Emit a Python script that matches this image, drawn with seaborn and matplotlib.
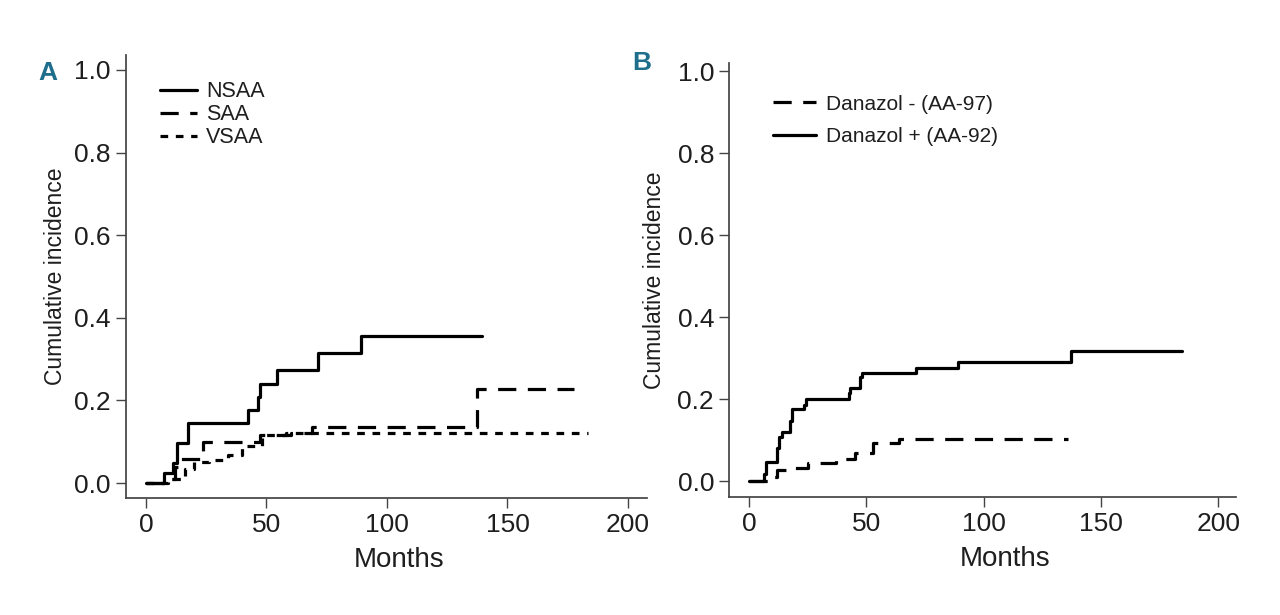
import matplotlib
matplotlib.use("Agg")
import matplotlib.pyplot as plt
import pandas as pd
import seaborn as sns

# Panel A: cumulative incidence by severity
nsaa_months = [0, 7.6, 11.3, 12.7, 17.6, 42.4, 46.6, 47.3, 54.5, 71.2, 89.2, 139.3]
nsaa_inc = [0, 0.025, 0.049, 0.097, 0.146, 0.178, 0.208, 0.240, 0.273, 0.314, 0.355, 0.355]
saa_months = [0, 10, 12, 14, 23.5, 47.3, 60, 69, 137.5, 177.5]
saa_inc = [0, 0.01, 0.040, 0.058, 0.100, 0.117, 0.122, 0.135, 0.228, 0.228]
vsaa_months = [0, 9, 16, 20, 26, 34, 40, 48, 58, 183.5]
vsaa_inc = [0, 0.01, 0.035, 0.050, 0.056, 0.068, 0.089, 0.117, 0.121, 0.121]

# Panel B: cumulative incidence by danazol use
dan_plus_months = [0, 6.5, 7.1, 11.8, 12.8, 14.2, 17.5, 18.2, 23.4, 24.3, 42.6, 43.0,
                   47.3, 48.3, 71.0, 89.2, 137.0, 184.6]
dan_plus_inc = [0, 0.017, 0.046, 0.080, 0.108, 0.119, 0.147, 0.175, 0.185, 0.200, 0.214,
                0.226, 0.254, 0.264, 0.276, 0.291, 0.317, 0.317]
dan_minus_months = [0, 9.7, 11.8, 18, 25, 37, 45, 53, 64, 136]
dan_minus_inc = [0, 0.010, 0.027, 0.032, 0.044, 0.053, 0.068, 0.094, 0.102, 0.102]

xticks = [0, 50, 100, 150, 200]
yticks = [0.0, 0.2, 0.4, 0.6, 0.8, 1.0]

LONG_DASH = (0, (5.7, 3.6))
SHORT_DASH = (0, (2.4, 2.4))
LW = 2.3
TEXT = "#1e1e1e"
PANEL = "#1f6e8c"

sns.set_theme(style="ticks")
plt.rcParams["font.family"] = ["Liberation Sans", "DejaVu Sans"]
plt.rcParams["axes.edgecolor"] = "#444444"
plt.rcParams["xtick.color"] = "#444444"
plt.rcParams["ytick.color"] = "#444444"

fig = plt.figure(figsize=(12.8, 6.15), dpi=100)
ax_a = fig.add_axes([0.0984, 0.1902, 0.4071, 0.7204])
ax_b = fig.add_axes([0.5698, 0.1924, 0.3958, 0.7046])


def draw(ax, months, inc, style, label):
    df = pd.DataFrame({"Months": months, "inc": inc})
    sns.lineplot(data=df, x="Months", y="inc", ax=ax, color="black", lw=LW,
                 linestyle=style, drawstyle="steps-post", label=label,
                 estimator=None, sort=False)


draw(ax_a, nsaa_months, nsaa_inc, "-", "NSAA")
draw(ax_a, saa_months, saa_inc, LONG_DASH, "SAA")
draw(ax_a, vsaa_months, vsaa_inc, SHORT_DASH, "VSAA")

draw(ax_b, dan_minus_months, dan_minus_inc, LONG_DASH, "Danazol - (AA-97)")
draw(ax_b, dan_plus_months, dan_plus_inc, "-", "Danazol + (AA-92)")

ax_a.set_xlim(-8.3, 207.9)
ax_a.set_ylim(-0.036, 1.036)
ax_b.set_xlim(-8.4, 207.5)
ax_b.set_ylim(-0.038, 1.019)

for ax, xlab_pos, ylab_pad in ((ax_a, 0.524, 5), (ax_b, 0.544, 8)):
    sns.despine(ax=ax)
    ax.set_xticks(xticks)
    ax.set_yticks(yticks)
    ax.set_yticklabels([f"{v:.1f}" for v in yticks])
    ax.tick_params(axis="both", length=7, width=1, labelsize=19, labelcolor=TEXT)
    ax.tick_params(axis="y", pad=4)
    ax.tick_params(axis="x", pad=4)
    ax.set_xlabel("Months", fontsize=20, color=TEXT, labelpad=7, x=xlab_pos)
    ax.set_ylabel("Cumulative incidence", fontsize=16.5, color=TEXT, labelpad=ylab_pad)

ax_a.legend(loc="upper left", bbox_to_anchor=(0.125, 0.868), bbox_transform=fig.transFigure,
            frameon=False, fontsize=15.5, handlelength=1.7, handletextpad=0.45,
            labelspacing=0.1, borderpad=0, borderaxespad=0, labelcolor=TEXT)
ax_b.legend(loc="upper left", bbox_to_anchor=(0.6037, 0.846), bbox_transform=fig.transFigure,
            frameon=False, fontsize=15, handlelength=2.1, handletextpad=0.45,
            labelspacing=0.65, borderpad=0, borderaxespad=0, labelcolor=TEXT)

fig.text(48 / 1280, 1 - 73 / 615, "A", color=PANEL, fontsize=19, fontweight="bold",
         ha="center", va="center")
fig.text(642 / 1280, 1 - 63 / 615, "B", color=PANEL, fontsize=19, fontweight="bold",
         ha="center", va="center")

fig.savefig("out.png", dpi=100)
